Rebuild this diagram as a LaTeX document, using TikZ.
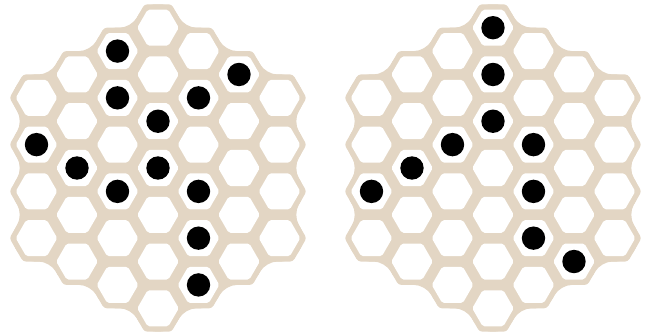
\documentclass[tikz,border=0pt]{standalone}
\definecolor{boardtan}{RGB}{227,214,196}

\begin{document}
\begin{tikzpicture}[
  x=0.5cm, y=0.5cm,
  rim/.style={fill=boardtan, rounded corners=6pt},
  cellbase/.style={fill=boardtan, rounded corners=1.5pt},
  cellhole/.style={fill=white, draw=none, rounded corners=1pt},
  stone/.style={fill=black}]

\useasboundingbox (-5.852,-6.111) rectangle (18.185,6.222);

% ---------- boards (left at 0, right at 12.407)
\foreach \bx in {0,12.407}{
  \begin{scope}[shift={(\bx,0)}]
    % outer rim, concave notches smoothed
    \fill[rim] (90:6.0622) \foreach \a in {0,60,...,300}{
      -- (85.28-\a:6.0828) -- (79.11-\a:5.2915) -- (68.95-\a:5.5678) -- (60-\a:5)
      -- (51.05-\a:5.5678) -- (40.89-\a:5.2915) -- (34.72-\a:6.0828)} -- cycle;
    % cells: columns of 4,5,6,7,6,5,4
    \foreach \c in {-3,...,3}{
      \pgfmathtruncatemacro\n{6-abs(\c)}
      \pgfmathtruncatemacro\m{2-\n}
      \foreach \d in {-\n,\m,...,\n}{
        \fill[cellbase, shift={({1.5*(\c)},{0.866*(\d)})}]
          (0:1) -- (60:1) -- (120:1) -- (180:1) -- (240:1) -- (300:1) -- cycle;
        \fill[cellhole, shift={({1.5*(\c)},{0.866*(\d)})}]
          (0:0.77) -- (60:0.77) -- (120:0.77) -- (180:0.77) -- (240:0.77) -- (300:0.77) -- cycle;
      }}
  \end{scope}}

% ---------- stones, left board (column / half-row)
\foreach \c/\d in {-1/-5, 2/-4, -1/-3, 1/-3, 0/-2, -3/-1, -2/0, 0/0, -1/1, 1/1, 1/3, 1/5}
  \fill[stone] ({1.5*(\c)},{-0.866*(\d)}) circle[radius=0.433];

% ---------- stones, right board
\foreach \c/\d in {0/-6, 0/-4, 0/-2, -1/-1, 1/-1, -2/0, 1/1, -3/1, 1/3, 2/4}
  \fill[stone] ({12.407+1.5*(\c)},{-0.866*(\d)}) circle[radius=0.433];
\end{tikzpicture}
\end{document}
